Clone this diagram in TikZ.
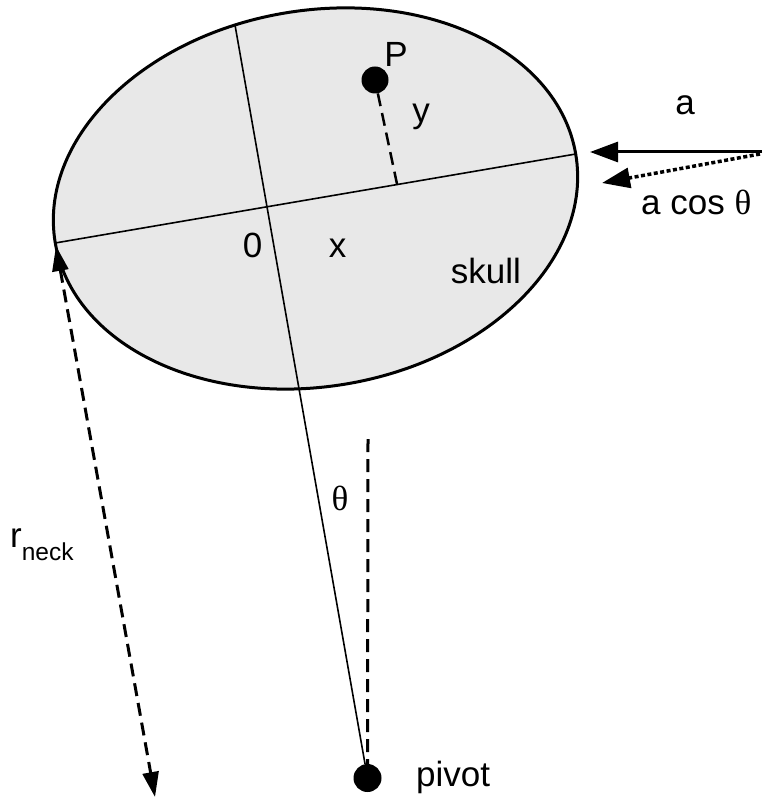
\documentclass[tikz,border=0pt]{standalone}
\usepackage{fontspec}
\setmainfont{Liberation Sans}
\newfontfamily\grk{Liberation Serif}
\usetikzlibrary{arrows.meta}
\definecolor{skullfill}{RGB}{232,232,232}
\begin{document}
\begin{tikzpicture}[x=1pt,y=-1pt,
  lbl/.style={inner sep=0pt, anchor=base, font=\fontsize{35}{42}\selectfont},
  dot/.style={circle, fill=black, inner sep=0pt, minimum size=27pt},
  axisline/.style={line width=1.6pt},
  dashline/.style={line width=3pt, dash pattern=on 13pt off 7pt},
  bigtip/.style={-{Triangle[length=28pt,width=20pt]}},
]
\useasboundingbox (0,0) rectangle (762,799);
\coordinate (C) at (315.5,198.5);
\draw[line width=3pt, fill=skullfill, rotate around={9.7:(C)}] (C) ellipse [x radius=264pt, y radius=188pt];

\coordinate (L) at (55.2,243);
\coordinate (R) at (575.8,154);
\coordinate (T) at (235,25);
\node[dot] (P) at (375,80) {};
\node[dot, minimum size=28pt] (pivot) at (367.5,778) {};
\coordinate (Pfoot) at (397,184);
\coordinate (V) at (368,439);
\coordinate (aTail) at (762,152);
\coordinate (aTip) at (590,152);
\coordinate (acTail) at (760,154);
\coordinate (acTip) at (602,183);
\coordinate (rTop) at (56,246);
\coordinate (rBot) at (155,797);

\draw[axisline] (L) -- (R);
\draw[axisline] (T) -- (pivot);
\draw[dashline, line width=2.5pt] (P) -- (Pfoot);
\draw[dashline] (V) -- (pivot);
\draw[line width=3pt, bigtip] (aTail) -- (aTip);
\draw[line width=3.5pt, dash pattern=on 4pt off 2.5pt, bigtip] (acTail) -- (acTip);
\draw[dashline, {Triangle[length=25pt,width=16pt]}-{Triangle[length=25pt,width=16pt]}] (rTop) -- (rBot);

\node[lbl] (lP) at (396,67) {P};
\node[lbl] (ly) at (421,123) {y};
\node[lbl] (l0) at (252.5,258) {0};
\node[lbl] (lx) at (337.5,258) {x};
\node[lbl] (lskull) at (486,283) {skull};
\node[lbl] (la) at (685,115) {a};
\node[lbl, anchor=base west] (lacos) at (641,215) {a cos {\grk θ}};
\node[lbl] (ltheta) at (340,510) {\grk θ};
\node[lbl, anchor=base west] (lr) at (10,547) {r\raisebox{-13pt}{\fontsize{24.5}{29}\selectfont neck}};
\node[lbl, anchor=base west] (lpivot) at (416,786) {pivot};
\end{tikzpicture}
\end{document}
